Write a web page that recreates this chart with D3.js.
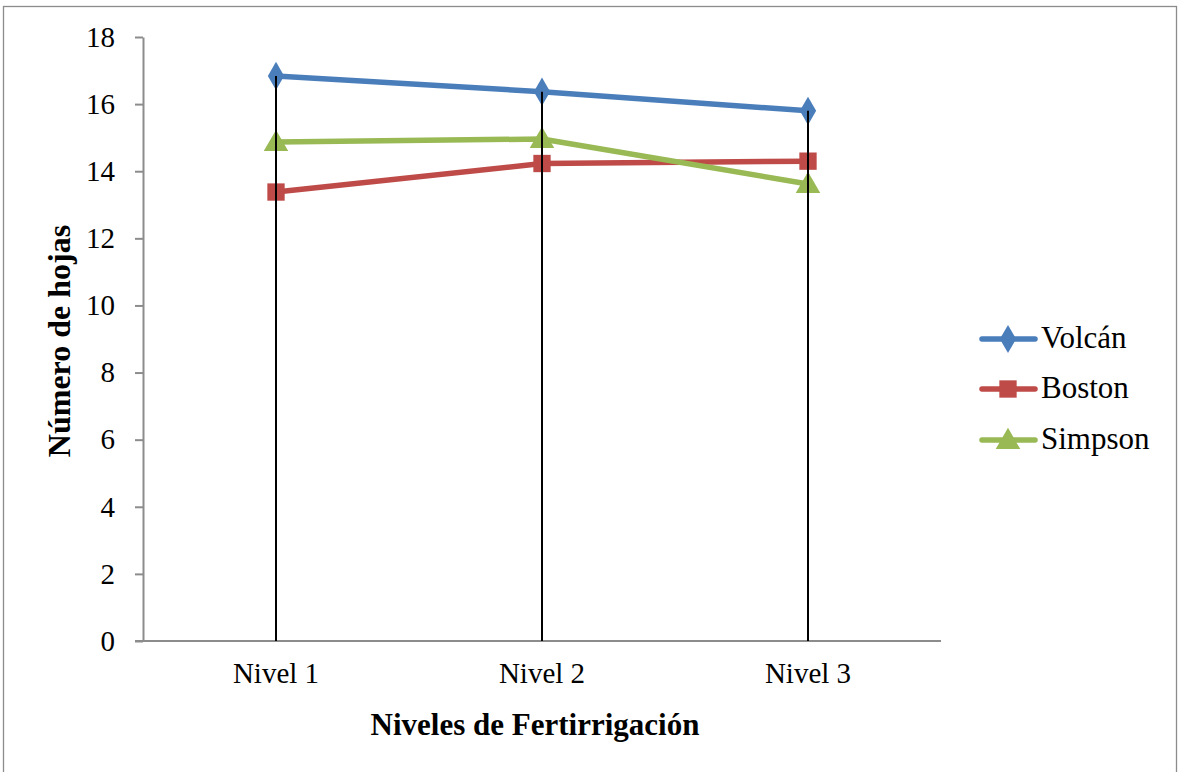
<!DOCTYPE html>
<html>
<head>
<meta charset="utf-8">
<script src="https://cdn.jsdelivr.net/npm/d3@7"></script>
<style>
  html, body { margin: 0; padding: 0; background: #fff; }
  svg { display: block; }
</style>
</head>
<body>
<script>
const categories = ["Nivel 1", "Nivel 2", "Nivel 3"];
const seriesNames = ["Volcán", "Boston", "Simpson"];
const volcan = [16.84, 16.37, 15.80];
const boston = [13.38, 14.23, 14.30];
const simpson = [14.87, 14.96, 13.62];
const yTicks = [0, 2, 4, 6, 8, 10, 12, 14, 16, 18];
const colors = ["#4a7ebb", "#be4b48", "#98b954"];
const symbols = [d3.symbolDiamond, d3.symbolSquare, d3.symbolTriangle];
const symbolSizes = [230, 300, 260];

const seriesData = [volcan, boston, simpson];

const W = 1178, H = 772;
const svg = d3.select("body").append("svg").attr("width", W).attr("height", H);
const font = "'Liberation Serif', 'Times New Roman', serif";

// outer border
svg.append("rect").attr("x", 3.5).attr("y", 6.5).attr("width", 1173).attr("height", 770)
  .attr("fill", "none").attr("stroke", "#8c8c8c").attr("stroke-width", 1.3);

const mLeft = 143, mRight = 941, mTop = 37, mBottom = 641;
const x = d3.scaleBand().domain(categories).range([mLeft, mRight]).padding(0);
const y = d3.scaleLinear().domain([0, 18]).range([mBottom, mTop]);
const cx = c => x(c) + x.bandwidth() / 2;

// y axis
const yAxis = d3.axisLeft(y).tickValues(yTicks).tickSize(8).tickSizeOuter(0).tickPadding(20);
const gy = svg.append("g").attr("transform", `translate(${mLeft},0)`).call(yAxis);
gy.select(".domain").attr("stroke", "#8c8c8c").attr("stroke-width", 2);
gy.selectAll(".tick line").attr("stroke", "#8c8c8c").attr("stroke-width", 2);
gy.selectAll(".tick text").attr("font-family", font).attr("font-size", 29).attr("fill", "#000");

// x axis
const xAxis = d3.axisBottom(x).tickSize(0).tickSizeOuter(0).tickPadding(21);
const gx = svg.append("g").attr("transform", `translate(0,${mBottom})`).call(xAxis);
gx.select(".domain").attr("stroke", "#8c8c8c").attr("stroke-width", 2).attr("d", `M${mLeft - 8},0H${mRight}`);
gx.selectAll(".tick text").attr("font-family", font).attr("font-size", 29).attr("fill", "#000");

// series
const line = d3.line().x((d, i) => cx(categories[i])).y(d => y(d));
seriesData.forEach((s, k) => {
  svg.append("path").datum(s).attr("d", line).attr("fill", "none")
    .attr("stroke", colors[k]).attr("stroke-width", 5.5).attr("stroke-linejoin", "round");
  svg.selectAll(null).data(s).enter().append("path")
    .attr("d", d3.symbol().type(symbols[k]).size(symbolSizes[k]))
    .attr("transform", (d, i) => `translate(${cx(categories[i])},${y(d) + (k === 2 ? 2 : 0)})`)
    .attr("fill", colors[k]);
});

// drop lines (from highest point to axis), drawn over markers
categories.forEach((c, i) => {
  const maxV = d3.max(seriesData, s => s[i]);
  svg.append("line").attr("x1", cx(c)).attr("x2", cx(c))
    .attr("y1", y(maxV)).attr("y2", y(0))
    .attr("stroke", "#000").attr("stroke-width", 2);
});

// axis titles
svg.append("text").attr("x", (mLeft + mRight) / 2 - 7).attr("y", 735)
  .attr("text-anchor", "middle").attr("font-family", font).attr("font-weight", "bold")
  .attr("font-size", 31).text("Niveles de Fertirrigación");
svg.append("text").attr("transform", "translate(70,341) rotate(-90)")
  .attr("text-anchor", "middle").attr("font-family", font).attr("font-weight", "bold")
  .attr("font-size", 32).text("Número de hojas");

// legend
const legY = [339, 389, 440];
seriesNames.forEach((n, k) => {
  const g = svg.append("g").attr("transform", `translate(0,${legY[k]})`);
  g.append("line").attr("x1", 982).attr("x2", 1035).attr("y1", 0).attr("y2", 0)
    .attr("stroke", colors[k]).attr("stroke-width", 5.5).attr("stroke-linecap", "round");
  g.append("path").attr("d", d3.symbol().type(symbols[k]).size(symbolSizes[k]))
    .attr("transform", `translate(1008,${k === 2 ? 2 : 0})`).attr("fill", colors[k]);
  g.append("text").attr("x", 1041).attr("y", 9).attr("font-family", font)
    .attr("font-size", 31).attr("fill", "#000").text(n);
});
</script>
</body>
</html>
